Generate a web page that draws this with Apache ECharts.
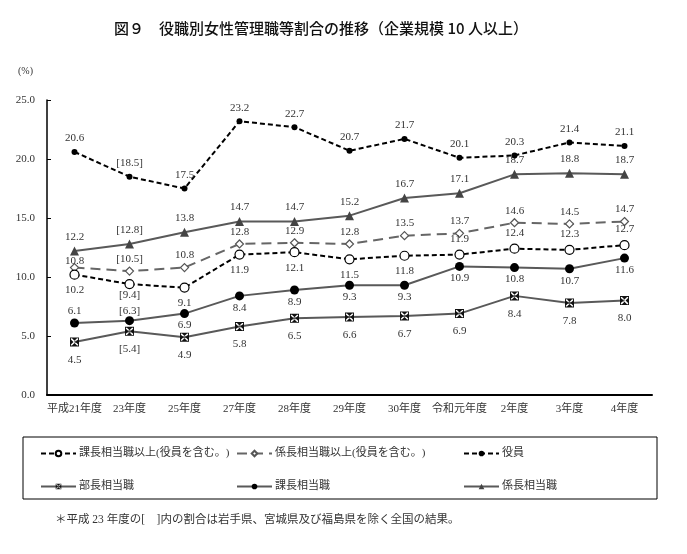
<!DOCTYPE html>
<html>
<head>
<meta charset="utf-8">
<script src="https://cdn.jsdelivr.net/npm/echarts@6/dist/echarts.min.js"></script>
<style>
  html, body { margin: 0; padding: 0; background: #fff; }
  #chart { width: 687px; height: 554px; }
</style>
</head>
<body>
<div id="chart"></div>
<script>
// 年度
const categories = ['平成21年度', '23年度', '25年度', '27年度', '28年度', '29年度', '30年度', '令和元年度', '2年度', '3年度', '4年度']
// 役職別割合 (%)
const kachoIjo = [10.2, 9.4, 9.1, 11.9, 12.1, 11.5, 11.8, 11.9, 12.4, 12.3, 12.7]
const kakarichoIjo = [10.8, 10.5, 10.8, 12.8, 12.9, 12.8, 13.5, 13.7, 14.6, 14.5, 14.7]
const yakuin = [20.6, 18.5, 17.5, 23.2, 22.7, 20.7, 21.7, 20.1, 20.3, 21.4, 21.1]
const bucho = [4.5, 5.4, 4.9, 5.8, 6.5, 6.6, 6.7, 6.9, 8.4, 7.8, 8.0]
const kacho = [6.1, 6.3, 6.9, 8.4, 8.9, 9.3, 9.3, 10.9, 10.8, 10.7, 11.6]
const kakaricho = [12.2, 12.8, 13.8, 14.7, 14.7, 15.2, 16.7, 17.1, 18.7, 18.8, 18.7]
// 縦軸
const yTicks = [0, 5, 10, 15, 20, 25]

const serif = "'Liberation Serif', 'Noto Sans CJK JP', serif"
const GRAY = '#595959'

// 23年度は[ ]付き
const fmt = p => (p.dataIndex === 1 ? '[' + p.value.toFixed(1) + ']' : p.value.toFixed(1))

// 四角に×の記号
const boxX = 'path://M0,0L10,0L10,10L0,10Z M1,1L1,9L9,9L9,1Z ' +
  'M2.2,1L7.8,1L5,3.8Z M9,2.2L9,7.8L6.2,5Z M7.8,9L2.2,9L5,6.2Z M1,7.8L1,2.2L3.8,5Z'

const mkLabel = (pos, dist) => ({
  show: true,
  position: pos,
  distance: dist,
  formatter: fmt,
  color: '#333',
  fontSize: 11,
  fontFamily: serif
})

// 点ごとに上下を決める（23年度は線が込み合うので寄せる）
const withPos = (arr, posFn, dist) => arr.map((v, i) => ({
  value: v,
  label: { position: posFn(i), distance: i === 1 ? 0 : dist }
}))

const chart = echarts.init(document.getElementById('chart'))
const option = {
  animation: false,
  backgroundColor: '#fff',
  title: {
    text: '図９　役職別女性管理職等割合の推移（企業規模 10 人以上）',
    left: 316,
    textAlign: 'center',
    top: 16,
    textStyle: { fontSize: 15, fontWeight: 500, color: '#111', fontFamily: "'Noto Sans CJK JP', sans-serif" }
  },
  grid: { left: 47, right: 35, top: 100, bottom: 159 },
  xAxis: {
    type: 'category',
    data: categories,
    boundaryGap: true,
    axisLine: { lineStyle: { color: '#000', width: 2 } },
    axisTick: { inside: true, length: 4, lineStyle: { color: '#000' } },
    axisLabel: { color: '#333', fontSize: 11, fontFamily: serif, margin: 9, interval: 0 }
  },
  yAxis: {
    type: 'value',
    min: yTicks[0],
    max: yTicks[yTicks.length - 1],
    interval: yTicks[1] - yTicks[0],
    axisLine: { show: true, lineStyle: { color: '#000', width: 1.5 } },
    axisTick: { show: true, inside: true, length: 4, lineStyle: { color: '#000' } },
    splitLine: { show: false },
    axisLabel: { color: '#333', fontSize: 11, fontFamily: serif, margin: 12, formatter: v => v.toFixed(1) }
  },
  legend: [
    { left: 40, top: 448, data: ['課長相当職以上(役員を含む。)', '部長相当職'] },
    { left: 236, top: 448, data: ['係長相当職以上(役員を含む。)', '課長相当職'] },
    { left: 463, top: 448, data: ['役員', '係長相当職'] }
  ].map(l => Object.assign({
    orient: 'vertical',
    itemWidth: 35,
    itemHeight: 7,
    itemGap: 22,
    padding: 0,
    textStyle: { fontSize: 11, color: '#333', fontFamily: serif, padding: [0, 0, 0, -2] }
  }, l)),
  graphic: [
    { type: 'rect', shape: { x: 23, y: 437, width: 634, height: 62 }, style: { fill: 'none', stroke: '#000', lineWidth: 1 }, silent: true },
    { type: 'text', left: 18, top: 66, style: { text: '(%)', fill: '#333', font: '10px ' + serif } },
    { type: 'text', left: 55, top: 514, style: { text: '＊平成 23 年度の[　]内の割合は岩手県、宮城県及び福島県を除く全国の結果。', fill: '#333', font: '11.5px ' + serif } }
  ],
  series: [
    {
      name: '課長相当職以上(役員を含む。)',
      type: 'line',
      data: withPos(kachoIjo, i => (i < 7 ? 'bottom' : 'top'), 5),
      symbol: 'circle',
      symbolSize: 9,
      itemStyle: { color: '#fff', borderColor: '#000', borderWidth: 1.2 },
      lineStyle: { color: '#000', width: 2, type: [5, 3] },
      label: mkLabel('bottom', 5),
      z: 4
    },
    {
      name: '係長相当職以上(役員を含む。)',
      type: 'line',
      // 平成21年度のラベルは線の間に寄せる
      data: kakarichoIjo.map((v, i) => (i === 0 ? { value: v, label: { offset: [0, 6] } } : v)),
      symbol: 'diamond',
      symbolSize: 8,
      itemStyle: { color: '#fff', borderColor: '#555', borderWidth: 1.2 },
      lineStyle: { color: '#666', width: 2, type: [10, 6] },
      label: mkLabel('top', 2),
      z: 3
    },
    {
      name: '役員',
      type: 'line',
      data: yakuin,
      symbol: 'circle',
      symbolSize: 6,
      itemStyle: { color: '#000', borderColor: '#000', borderWidth: 0 },
      lineStyle: { color: '#000', width: 2, type: [5, 3] },
      label: mkLabel('top', 5),
      z: 4
    },
    {
      name: '部長相当職',
      type: 'line',
      data: bucho,
      symbol: boxX,
      symbolSize: 9,
      itemStyle: { color: '#111', borderWidth: 0 },
      lineStyle: { color: GRAY, width: 2 },
      label: mkLabel('bottom', 8),
      z: 3
    },
    {
      name: '課長相当職',
      type: 'line',
      data: withPos(kacho, i => (i < 2 ? 'top' : 'bottom'), 2),
      symbol: 'circle',
      symbolSize: 9,
      itemStyle: { color: '#000', borderWidth: 0 },
      lineStyle: { color: GRAY, width: 2 },
      label: mkLabel('bottom', 2),
      z: 3
    },
    {
      name: '係長相当職',
      type: 'line',
      data: kakaricho,
      symbol: 'triangle',
      symbolSize: 9,
      itemStyle: { color: '#444', borderWidth: 0 },
      lineStyle: { color: GRAY, width: 2 },
      label: mkLabel('top', 4),
      z: 3
    }
  ]
}
chart.setOption(option)
</script>
</body>
</html>
